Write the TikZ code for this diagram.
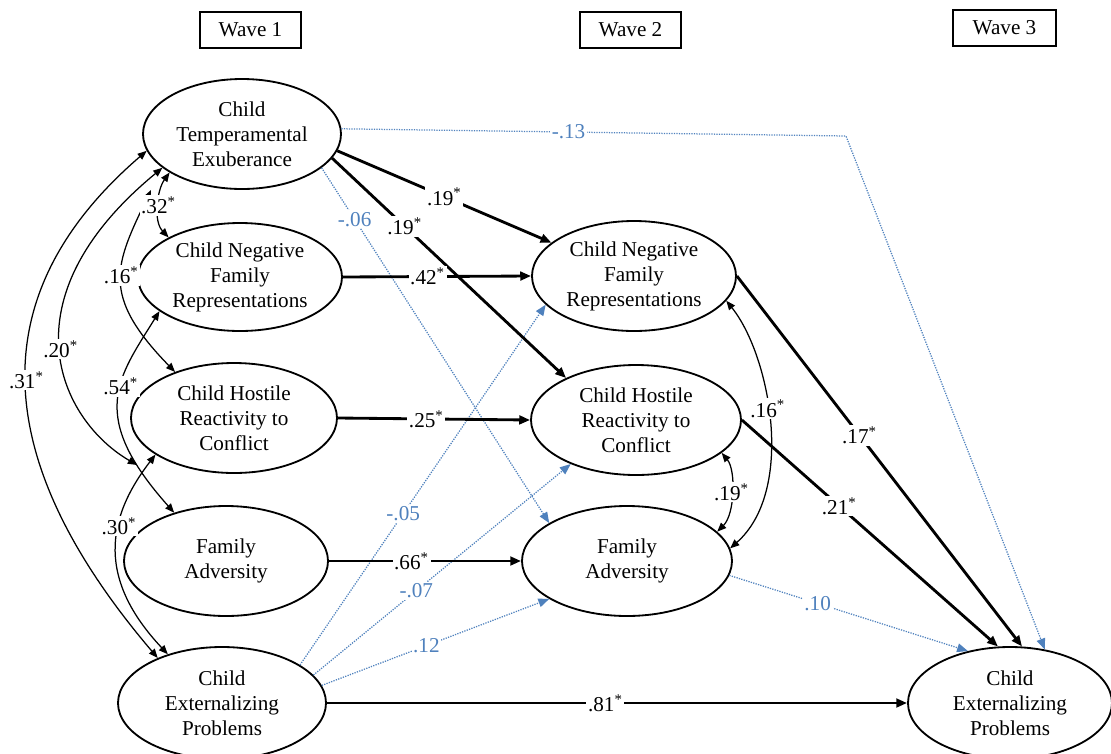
\documentclass[tikz,border=0pt]{standalone}
\usepackage{fontspec}
\setmainfont{Liberation Serif}
\usetikzlibrary{arrows.meta,shapes.geometric}
\definecolor{pblue}{RGB}{79,129,189}
\tikzset{
  var/.style={ellipse, draw, line width=1.1pt, inner sep=0pt, align=center,
    font=\fontsize{12.7}{15}\selectfont},
  wavebox/.style={draw, line width=0.7pt, minimum width=60.6pt, minimum height=21.6pt,
    inner sep=0pt, font=\fontsize{12.7}{15}\selectfont},
  sigpath/.style={line width=1.7pt, -{Triangle[length=6.5pt,width=5.2pt]}},
  nspath/.style={pblue, line width=0.75pt, dash pattern=on 0.75pt off 0.75pt,
    -{Triangle[length=6.5pt,width=5.2pt]}},
  corr/.style={line width=0.75pt,
    {Triangle[length=5.5pt,width=4.4pt]}-{Triangle[length=5.5pt,width=4.4pt]}},
  lab/.style={fill=white, inner sep=1pt, font=\fontsize{12.7}{15}\selectfont},
  blab/.style={lab, text=pblue},
}
\newcommand{\st}{\textsuperscript{*}}
\begin{document}
\begin{tikzpicture}[x=0.6pt,y=-0.6pt]
\useasboundingbox (0,0) rectangle (1111,753);

% wave headers
\node[wavebox] (w1) at (250.5,30) {Wave 1};
\node[wavebox] (w2) at (630.5,30) {Wave 2};
\node[wavebox, minimum width=61.8pt] (w3) at (1004.5,28) {Wave 3};

% Wave 1
\node[var, minimum width=118.8pt, minimum height=66pt] (TE) at (242,134) {Child\\Temperamental\\Exuberance};
\node[var, minimum width=122.4pt, minimum height=64.8pt] (NFR1) at (240,277) {Child Negative\\Family\\Representations};
\node[var, minimum width=123.6pt, minimum height=66pt] (HRC1) at (234,418) {Child Hostile\\Reactivity to\\Conflict};
\node[var, minimum width=122.4pt, minimum height=66pt] (FA1) at (226,561) {Family\\Adversity};
\node[var, minimum width=124.8pt, minimum height=67.2pt] (CEP1) at (222,703) {Child\\Externalizing\\Problems};

% Wave 2
\node[var, minimum width=122.4pt, minimum height=66pt] (NFR2) at (634,276) {Child Negative\\Family\\Representations};
\node[var, minimum width=126pt, minimum height=66pt] (HRC2) at (636,420) {Child Hostile\\Reactivity to\\Conflict};
\node[var, minimum width=126pt, minimum height=66pt] (FA2) at (627,561) {Family\\Adversity};

% Wave 3
\node[var, minimum width=122.4pt, minimum height=67.2pt] (CEP3) at (1010,703) {Child\\Externalizing\\Problems};

% helper coordinates
\coordinate (c13) at (846,136);
\coordinate (c20) at (137,465);
\coordinate (c16) at (151,190);

% non-significant paths (blue dotted)
\draw[nspath] (TE.3) -- (c13) node[blab, pos=0.45] {-.13} -- (CEP3.57);
\draw[nspath] (TE.-23.5) -- (FA2.154) node[blab, pos=0.145] {-.06};
\draw[nspath] (CEP1.26) -- (NFR2.198) node[blab, pos=0.42] {-.05};
\draw[nspath] (CEP1.17) -- (HRC2.214) node[blab, pos=0.40] {-.07};
\draw[nspath] (CEP1.10) -- (FA2.206) node[blab, pos=0.46] {.12};
\draw[nspath] (FA2.-8) -- (CEP3.129) node[blab, pos=0.37] {.10};

% significant paths (black thick)
\draw[sigpath] (TE.-10) -- (NFR2.158) node[lab, pos=0.5] {.19\st};
\draw[sigpath] (TE.-15) -- (HRC2.149) node[lab, pos=0.31] {.19\st};
\draw[sigpath] (NFR1.east) -- (NFR2.west) node[lab, pos=0.45] {.42\st};
\draw[sigpath] (HRC1.east) -- (HRC2.west) node[lab, pos=0.46] {.25\st};
\draw[sigpath] (FA1.east) -- (FA2.west) node[lab, pos=0.43] {.66\st};
\draw[sigpath] (CEP1.east) -- (CEP3.west) node[lab, pos=0.48] {.81\st};
\draw[sigpath] (NFR2.east) -- (CEP3.78) node[lab, pos=0.43] {.17\st};
\draw[sigpath] (HRC2.east) -- (CEP3.102) node[lab, pos=0.38] {.21\st};

% correlations, wave 1
\draw[corr] (TE.190.5) .. controls (-15,290) and (-16,454) .. (CEP1.145) node[lab, pos=0.5] {.31\st};
\draw[corr] (TE.203) .. controls (2,300) and (60,420) .. (c20) node[lab, pos=0.5] {.20\st};
\draw[corr] (c16) .. controls (115,265) and (100,295) .. (HRC1.142) node[lab, pos=0.47] {.16\st};
\draw[corr] (TE.208) .. controls (157,190) and (153,221) .. (NFR1.151) node[lab, pos=0.5] {.32\st};
\draw[corr] (NFR1.203) .. controls (118,378) and (87,415) .. (FA1.137.7) node[lab, pos=0.42] {.54\st};
\draw[corr] (HRC1.205) .. controls (105,520) and (98,580) .. (CEP1.138.6) node[lab, pos=0.37] {.30\st};

% correlations, wave 2
\draw[corr] (NFR2.-15.5) .. controls (770,355) and (796,490) .. (FA2.7) node[lab, pos=0.45] {.16\st};
\draw[corr] (HRC2.-21) .. controls (736,470) and (735,514) .. (FA2.18) node[lab, pos=0.5] {.19\st};
\end{tikzpicture}
\end{document}
